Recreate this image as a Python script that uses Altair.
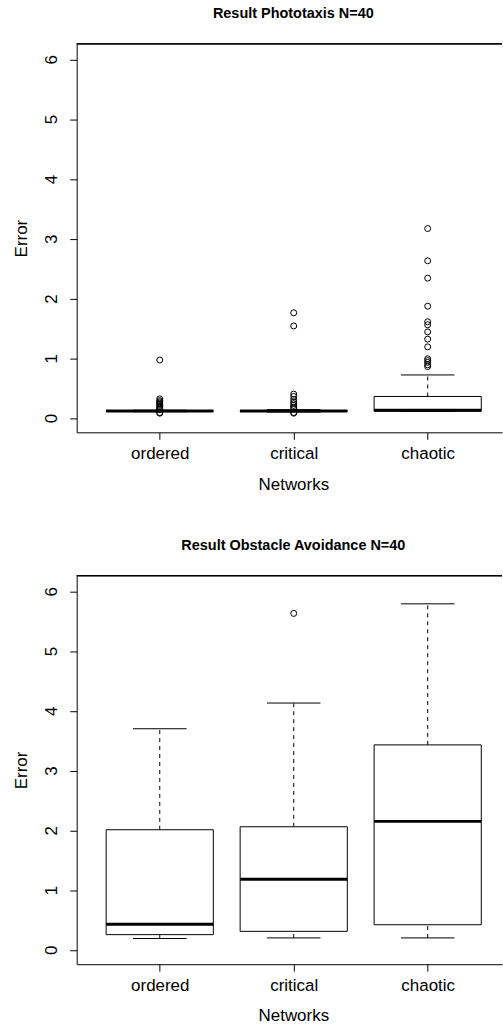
import altair as alt
import pandas as pd

categories = ["ordered", "critical", "chaotic"]
positions = [1, 2, 3]
y_ticks = [0, 1, 2, 3, 4, 5, 6]

# Panel 1: Result Phototaxis N=40 (five-number summaries + outliers)
photo_lower = [0.105, 0.100, 0.110]
photo_q1 = [0.110, 0.110, 0.115]
photo_median = [0.115, 0.115, 0.130]
photo_q3 = [0.120, 0.125, 0.360]
photo_upper = [0.130, 0.140, 0.720]
photo_out_ordered = [0.97, 0.32, 0.29, 0.27, 0.25, 0.23, 0.21, 0.19, 0.17, 0.15, 0.14, 0.09, 0.08]
photo_out_critical = [1.76, 1.54, 0.40, 0.36, 0.31, 0.27, 0.24, 0.21, 0.18, 0.16, 0.09, 0.08]
photo_out_chaotic = [3.17, 2.63, 2.34, 1.87, 1.61, 1.56, 1.44, 1.32, 1.19, 0.99, 0.96, 0.93, 0.89, 0.86]

# Panel 2: Result Obstacle Avoidance N=40
obst_lower = [0.19, 0.20, 0.20]
obst_q1 = [0.255, 0.31, 0.42]
obst_median = [0.43, 1.18, 2.15]
obst_q3 = [2.01, 2.06, 3.43]
obst_upper = [3.70, 4.13, 5.79]
obst_out_ordered = []
obst_out_critical = [5.63]
obst_out_chaotic = []

FONT = "Liberation Sans"
W = 427
H = 390
XDOM = [0.38, 0.38 + W / 134.5]
YDOM = [-0.24, 6.26]

label_expr = "['', 'ordered', 'critical', 'chaotic'][datum.value]"

xaxis = alt.Axis(
    title="Networks", values=positions, labelExpr=label_expr, grid=False,
    tickSize=7, tickColor="black", domainColor="black", tickWidth=1, domainWidth=1,
    labelFont=FONT, labelFontSize=17, labelColor="black", labelPadding=6,
    labelFlush=False, labelOverlap=False,
    titleFont=FONT, titleFontSize=17, titleFontWeight="normal", titleColor="black",
    titleX=217.5, titleY=52, titleBaseline="middle",
)
yaxis = alt.Axis(
    title="Error", values=y_ticks, grid=False,
    tickSize=7, tickColor="black", domainColor="black", tickWidth=1, domainWidth=1,
    labelFont=FONT, labelFontSize=17, labelColor="black", labelPadding=9,
    labelAngle=270, labelAlign="center", labelBaseline="bottom",
    titleFont=FONT, titleFontSize=17, titleFontWeight="normal", titleColor="black",
    titleX=-55, titleBaseline="middle", titleAngle=270,
)
xs = alt.Scale(domain=XDOM, nice=False, zero=False)
ys = alt.Scale(domain=YDOM, nice=False, zero=False)


def X(f):
    return alt.X(f, type="quantitative", scale=xs, axis=xaxis, title="Networks")


def Y(f):
    return alt.Y(f, type="quantitative", scale=ys, axis=yaxis, title="Error")


def panel(title, lower, q1, med, q3, upper, outs):
    stats = pd.DataFrame({
        "category": categories, "pos": positions, "lower": lower, "q1": q1,
        "median": med, "q3": q3, "upper": upper,
    })
    rows = [(p, v) for p, lst in zip(positions, outs) for v in lst]
    odf = pd.DataFrame(rows, columns=["pos", "value"])

    base = alt.Chart(stats).transform_calculate(
        box_l="datum.pos - 0.4", box_r="datum.pos + 0.4",
        cap_l="datum.pos - 0.2", cap_r="datum.pos + 0.2",
    )
    whisk_up = base.mark_rule(color="black", strokeWidth=1, strokeDash=[4, 4]).encode(
        x=X("pos"), y=Y("q3"), y2=alt.Y2("upper"))
    whisk_lo = base.mark_rule(color="black", strokeWidth=1, strokeDash=[4, 4]).encode(
        x=X("pos"), y=Y("lower"), y2=alt.Y2("q1"))
    cap_up = base.mark_rule(color="black", strokeWidth=1).encode(
        x=X("cap_l"), x2=alt.X2("cap_r"), y=Y("upper"))
    cap_lo = base.mark_rule(color="black", strokeWidth=1).encode(
        x=X("cap_l"), x2=alt.X2("cap_r"), y=Y("lower"))
    box = base.mark_rect(fill="white", stroke="black", strokeWidth=1).encode(
        x=X("box_l"), x2=alt.X2("box_r"), y=Y("q1"), y2=alt.Y2("q3"))
    median = base.mark_rule(color="black", strokeWidth=3, strokeCap="butt").encode(
        x=X("box_l"), x2=alt.X2("box_r"), y=Y("median"))
    pts = alt.Chart(odf).mark_point(
        shape="circle", filled=False, color="black", size=36, strokeWidth=1, opacity=1
    ).encode(x=X("pos"), y=Y("value"))
    frame_top = alt.Chart(stats).mark_rule(color="black", strokeWidth=1).encode(
        x=alt.value(0), x2=alt.value(W), y=alt.value(0))

    return alt.layer(whisk_up, whisk_lo, cap_up, cap_lo, box, median, pts, frame_top).properties(
        width=W, height=H,
        title=alt.TitleParams(
            text=title, font=FONT, fontSize=14.5, fontWeight="bold", color="black",
            anchor="middle", frame="group", dx=4, offset=22,
        ),
    )


top = panel("Result Phototaxis N=40", photo_lower, photo_q1, photo_median, photo_q3, photo_upper,
            [photo_out_ordered, photo_out_critical, photo_out_chaotic])
bottom = panel("Result Obstacle Avoidance N=40", obst_lower, obst_q1, obst_median, obst_q3, obst_upper,
               [obst_out_ordered, obst_out_critical, obst_out_chaotic])

chart = alt.vconcat(top, bottom, spacing=44).properties(
    padding={"left": 12, "top": 3, "right": 0, "bottom": 0},
    background="white",
).configure_view(stroke="transparent")

chart.save("out.html", embed_options={"renderer": "svg", "actions": False})
